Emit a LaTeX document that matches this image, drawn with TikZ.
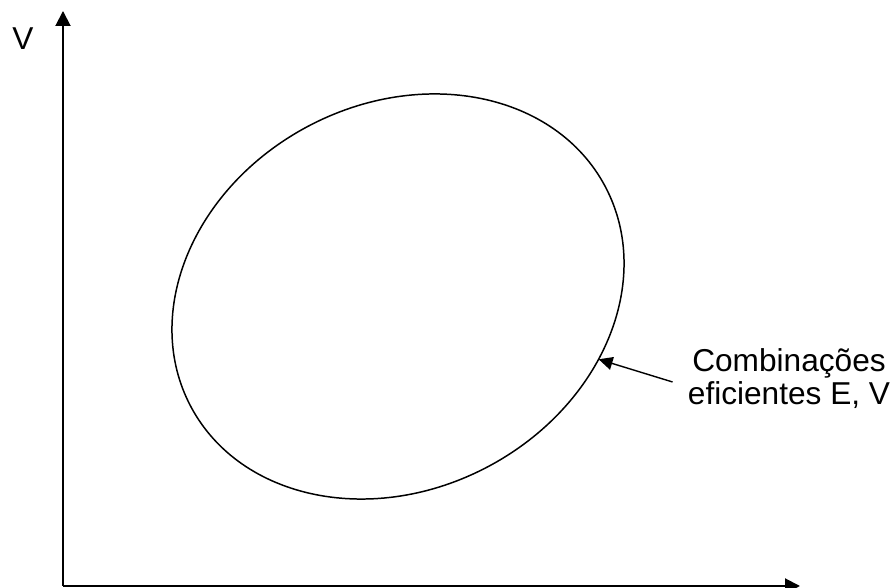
\documentclass[tikz,border=0pt]{standalone}
\usepackage{fontspec}
\setmainfont{Liberation Sans}
\usetikzlibrary{arrows.meta,positioning}

\begin{document}
\begin{tikzpicture}[
  axisarr/.style={-{Triangle[length=0.3cm,width=0.3cm]},line width=1.1pt},
  ptr/.style={-{Triangle[length=0.28cm,width=0.26cm]},line width=0.8pt},
  lbl/.style={inner sep=0pt,font=\fontsize{18}{18.8}\selectfont,align=center}
]
  \useasboundingbox (0,0) rectangle (17.9,11.76);

  % Axes
  \coordinate (o) at (1.26,0.04);
  \coordinate (ytop) at (1.26,11.54);
  \coordinate (xend) at (16.0,0.04);
  \draw[axisarr] (o) -- (ytop);
  \draw[axisarr] (o) -- (xend);
  \node[lbl] (vlab) at (0.46,10.98) {V};

  % Set of E, V combinations
  \begin{scope}[shift={(7.96,5.83)},rotate=28]
    \draw[line width=0.85pt] (0,0) ellipse [x radius=4.692,y radius=3.85];
    \coordinate (tip) at (-51:4.692 and 3.85);
  \end{scope}

  % Efficient combinations
  \node[lbl] (eff) at (15.78,4.18) {Combinações\\eficientes E, V};
  \draw[ptr] ([xshift=-0.3cm,yshift=-0.06cm]eff.west) -- (tip);
\end{tikzpicture}
\end{document}
